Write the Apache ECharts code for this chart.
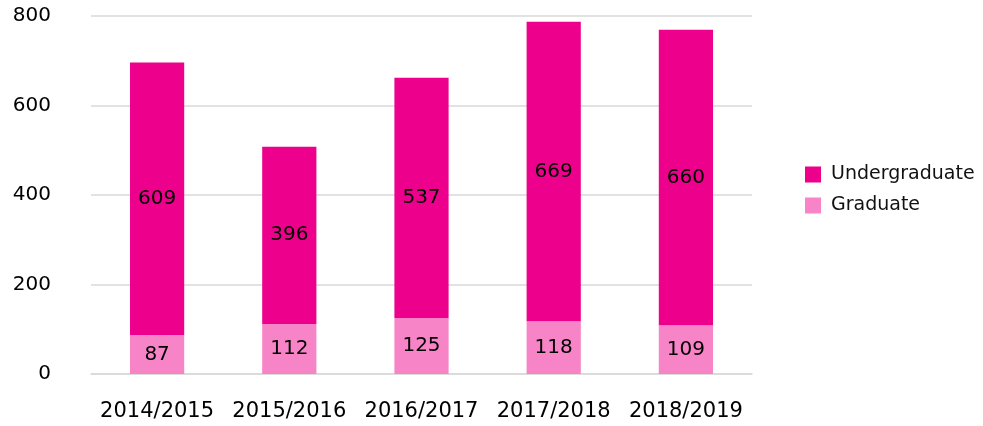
<!DOCTYPE html>
<html><head><meta charset="utf-8">
<script src="https://cdn.jsdelivr.net/npm/echarts@6/dist/echarts.min.js"></script>
<style>html,body{margin:0;padding:0;background:#fff}#c{width:983px;height:426px}</style>
</head><body><div id="c"></div>
<script>
const categories = ['2014/2015','2015/2016','2016/2017','2017/2018','2018/2019'];
const graduate = [87,112,125,118,109];
const undergraduate = [609,396,537,669,660];
const yTicks = [0,200,400,600,800];
const FONT = 'DejaVu Sans';
const chart = echarts.init(document.getElementById('c'));
chart.setOption({
  animation:false,
  textStyle:{fontFamily:FONT},
  grid:{left:91,right:231,top:16,bottom:52,containLabel:false},
  legend:{
    orient:'vertical', left:800, top:160, itemWidth:16, itemHeight:16, itemGap:12,
    icon:'rect',
    data:['Undergraduate','Graduate'],
    textStyle:{fontSize:19,color:'#111',fontFamily:FONT,padding:[0,0,0,5]}
  },
  xAxis:{type:'category',data:categories,
    axisLine:{lineStyle:{color:'#d9d9d9',width:1.5}},axisTick:{show:false},
    axisLabel:{fontSize:21,color:'#000',margin:27,interval:0,fontFamily:FONT}},
  yAxis:{type:'value',min:0,max:800,interval:200,
    axisLabel:{fontSize:20,color:'#000',margin:40,fontFamily:FONT,formatter:v=>yTicks.includes(v)?String(v):''},
    splitLine:{lineStyle:{color:'#d9d9d9',width:1.5}},axisLine:{show:false},axisTick:{show:false}},
  series:[
    {name:'Graduate',type:'bar',stack:'s',data:graduate,barWidth:'41%',
     itemStyle:{color:'#F684C6'},
     label:{show:true,position:'inside',fontSize:20,color:'#000',fontFamily:FONT}},
    {name:'Undergraduate',type:'bar',stack:'s',data:undergraduate,barWidth:'41%',
     itemStyle:{color:'#EC008C'},
     label:{show:true,position:'inside',fontSize:20,color:'#000',fontFamily:FONT}}
  ]
});
</script></body></html>
